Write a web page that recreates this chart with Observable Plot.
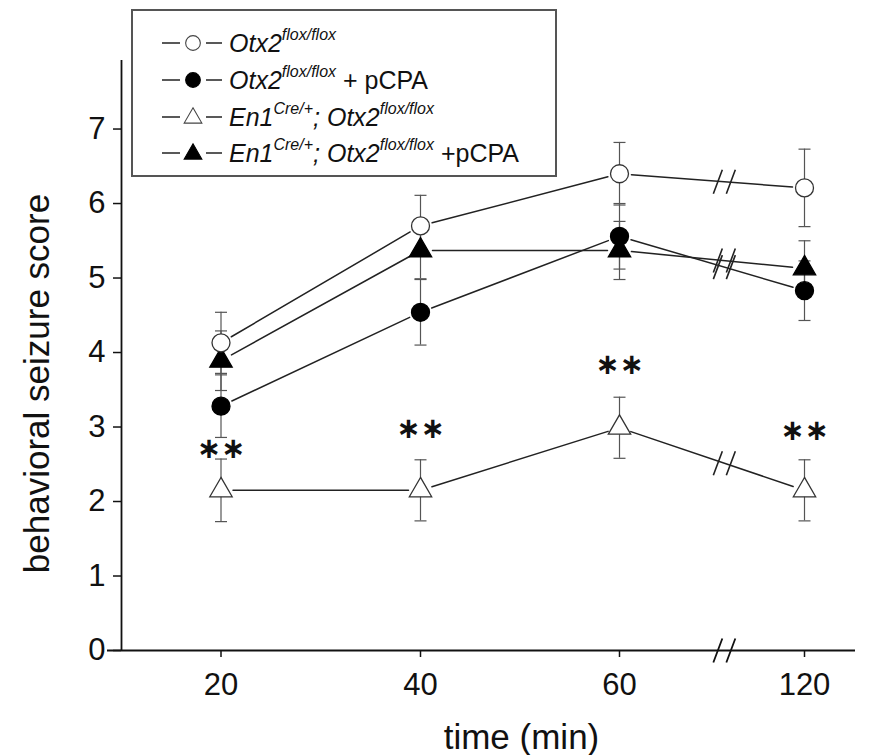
<!DOCTYPE html>
<html>
<head>
<meta charset="utf-8">
<script src="https://cdn.jsdelivr.net/npm/d3@7"></script>
<script src="https://cdn.jsdelivr.net/npm/@observablehq/plot@0.6"></script>
<style>
  html, body { margin: 0; padding: 0; background: #fff; }
  #chart { width: 869px; height: 755px; }
</style>
</head>
<body>
<div id="chart"></div>
<script>
// ---------- data ----------
const times = [20, 40, 60, 120];                 // x categories (min)
const yTicks = [0, 1, 2, 3, 4, 5, 6, 7];
const xLabel = "time (min)";
const yLabel = "behavioral seizure score";

// series 1: Otx2 flox/flox (open circle)
const otxMean = [4.13, 5.70, 6.40, 6.21];
const otxErr  = [0.41, 0.41, 0.42, 0.52];
// series 2: Otx2 flox/flox + pCPA (filled circle)
const otxPcpaMean = [3.28, 4.54, 5.56, 4.83];
const otxPcpaErr  = [0.42, 0.44, 0.44, 0.40];
// series 3: En1 Cre/+; Otx2 flox/flox (open triangle)
const en1Mean = [2.15, 2.15, 2.99, 2.15];
const en1Err  = [0.42, 0.41, 0.41, 0.41];
// series 4: En1 Cre/+; Otx2 flox/flox + pCPA (filled triangle)
const en1PcpaMean = [3.89, 5.37, 5.37, 5.13];
const en1PcpaErr  = [0.40, 0.38, 0.39, 0.37];

// significance annotations
const sigText = ["∗∗", "∗∗", "∗∗", "∗∗"];
const sigY = [2.71, 2.98, 3.83, 2.95];

// axis break between 60 and 120
const breakTime = 94;

// legend entries: [text, style] parts ("i" italic, "sup" superscript, "n" normal)
const legendParts = [
  [["Otx2", "i"], ["flox/flox", "sup"]],
  [["Otx2", "i"], ["flox/flox", "sup"], [" + pCPA", "n"]],
  [["En1", "i"], ["Cre/+", "sup"], ["; Otx2", "i"], ["flox/flox", "sup"]],
  [["En1", "i"], ["Cre/+", "sup"], ["; Otx2", "i"], ["flox/flox", "sup"], [" +pCPA", "n"]]
];

// ---------- build tables ----------
const series = [
  {key: "otx",      mean: otxMean,     err: otxErr,     symbol: "circle",   fill: "white"},
  {key: "otxPcpa",  mean: otxPcpaMean, err: otxPcpaErr, symbol: "circle",   fill: "black"},
  {key: "en1",      mean: en1Mean,     err: en1Err,     symbol: "triangle", fill: "white"},
  {key: "en1Pcpa",  mean: en1PcpaMean, err: en1PcpaErr, symbol: "triangle", fill: "black"}
];
const rows = series.flatMap(s => times.map((t, i) => ({key: s.key, time: t, mean: s.mean[i], err: s.err[i]})));
const segments = series.flatMap(s => times.slice(1).map((t, i) => ({
  key: s.key, t1: times[i], v1: s.mean[i], t2: t, v2: s.mean[i + 1]
})));
const breaks = series.map(s => {
  const n = times.length;
  const f = (breakTime - times[n - 2]) / (times[n - 1] - times[n - 2]);
  return {time: breakTime, y: s.mean[n - 2] + f * (s.mean[n - 1] - s.mean[n - 2])};
});
const sig = times.map((t, i) => ({time: t, y: sigY[i], text: sigText[i]}));

// ---------- custom symbols ----------
const capSymbol = {draw(ctx) { ctx.moveTo(-6, 0); ctx.lineTo(6, 0); }};
const breakSymbol = {draw(ctx) {
  ctx.moveTo(-11, 12); ctx.lineTo(-2, -12);
  ctx.moveTo(2, 12);  ctx.lineTo(11, -12);
}};

const FONT = "Liberation Sans, Arial, Helvetica, sans-serif";
const ink = "#111";
const lineInk = "#222";
const barInk = "#555";

const markers = series.map(s => Plot.dot(rows.filter(r => r.key === s.key), {
  x: "time", y: "mean", symbol: s.symbol,
  r: s.symbol === "circle" ? 9 : 8.3,
  fill: s.fill, stroke: s.fill === "white" ? "#333" : "black", strokeWidth: 1.3
}));

const chart = Plot.plot({
  width: 869,
  height: 755,
  marginLeft: 121,
  marginRight: 14,
  marginTop: 60,
  marginBottom: 105,
  style: {fontFamily: FONT, fontSize: "31px", color: ink, background: "white", overflow: "visible"},
  x: {type: "linear", domain: [10, ...times], range: [121, 220.5, 420, 619, 804]},
  y: {domain: [0, 7.92]},
  marks: [
    // axes
    Plot.ruleY([0], {insetLeft: -14, stroke: ink, strokeWidth: 1.8}),
    Plot.ruleX([10], {stroke: ink, strokeWidth: 1.8}),
    Plot.axisX({ticks: times, tickSize: 7, tickPadding: 15, fontSize: 31, strokeWidth: 1.5, label: null, tickFormat: d => String(d)}),
    Plot.axisY({ticks: yTicks, tickSize: 8, tickPadding: 8, fontSize: 31, strokeWidth: 1.5, label: null, tickFormat: d => String(d)}),
    Plot.dot([{time: breakTime, y: 0}], {x: "time", y: "y", symbol: breakSymbol, fill: "none", stroke: ink, strokeWidth: 1.8}),
    Plot.text([xLabel], {frameAnchor: "bottom", textAnchor: "middle", dx: 33, dy: 87, lineAnchor: "middle", fontSize: 35, fill: ink}),
    Plot.text([yLabel], {frameAnchor: "left", textAnchor: "middle", lineAnchor: "middle", rotate: -90, dx: -84, dy: 28, fontSize: 35, fill: ink}),
    // error bars
    Plot.ruleX(rows, {x: "time", y1: d => d.mean - d.err, y2: d => d.mean + d.err, stroke: barInk, strokeWidth: 1.2}),
    Plot.dot(rows, {x: "time", y: d => d.mean + d.err, symbol: capSymbol, fill: "none", stroke: barInk, strokeWidth: 1.2}),
    Plot.dot(rows, {x: "time", y: d => d.mean - d.err, symbol: capSymbol, fill: "none", stroke: barInk, strokeWidth: 1.2}),
    // connecting lines (gapped near markers)
    Plot.arrow(segments, {x1: "t1", y1: "v1", x2: "t2", y2: "v2", insetStart: 12, insetEnd: 12, headLength: 0, stroke: lineInk, strokeWidth: 1.5}),
    // break marks on lines
    Plot.dot(breaks, {x: "time", y: "y", symbol: breakSymbol, fill: "none", stroke: lineInk, strokeWidth: 1.6}),
    // markers: filled first, open on top
    markers[1], markers[3], markers[0], markers[2],
    // significance stars
    Plot.text(sig, {x: "time", y: "y", text: "text", fontSize: 29, fontFamily: "DejaVu Sans", fontWeight: "bold", fill: ink})
  ]
});
document.getElementById("chart").appendChild(chart);

// ---------- legend box (overlaid on plot area, top left) ----------
const svg = d3.select(chart);
const lg = svg.append("g").attr("font-family", FONT).attr("fill", ink).attr("text-anchor", "start");
lg.append("rect").attr("x", 132).attr("y", 10).attr("width", 424).attr("height", 166)
  .attr("fill", "white").attr("stroke", "#555").attr("stroke-width", 2);

const legendSymbols = [
  {symbol: d3.symbolCircle, size: 170, fill: "white"},
  {symbol: d3.symbolCircle, size: 170, fill: "black"},
  {symbol: d3.symbolTriangle, size: 135, fill: "white"},
  {symbol: d3.symbolTriangle, size: 135, fill: "black"}
];
const rowY = [43, 80, 117, 153];
legendSymbols.forEach((row, i) => {
  const y = rowY[i];
  lg.append("line").attr("x1", 162).attr("x2", 180).attr("y1", y).attr("y2", y).attr("stroke", lineInk).attr("stroke-width", 1.5);
  lg.append("line").attr("x1", 206).attr("x2", 222).attr("y1", y).attr("y2", y).attr("stroke", lineInk).attr("stroke-width", 1.5);
  lg.append("path").attr("d", d3.symbol(row.symbol, row.size)()).attr("transform", `translate(193,${y + (row.symbol === d3.symbolTriangle ? 1 : 0)})`)
    .attr("fill", row.fill).attr("stroke", row.fill === "white" ? "#444" : "black").attr("stroke-width", 1.1);
  const t = lg.append("text").attr("x", 229).attr("y", y + 9).attr("font-size", 25);
  let raised = false;
  legendParts[i].forEach(([s, kind]) => {
    const ts = t.append("tspan").text(s);
    if (kind === "sup") {
      ts.attr("font-size", 16).attr("font-style", "italic").attr("dy", -12);
      raised = true;
    } else {
      if (raised) { ts.attr("dy", 12); raised = false; }
      ts.attr("font-style", kind === "i" ? "italic" : "normal");
    }
  });
});
</script>
</body>
</html>
